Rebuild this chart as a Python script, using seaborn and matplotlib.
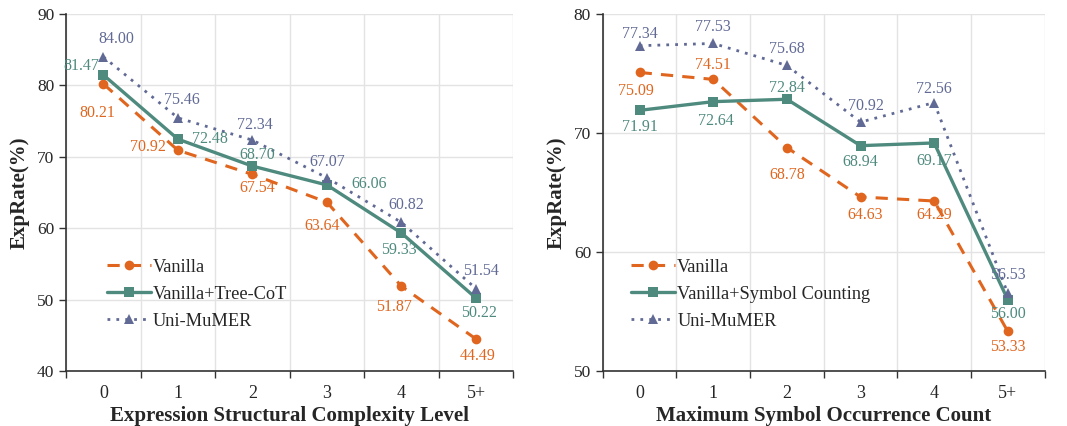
import numpy as np
import seaborn as sns
import matplotlib.pyplot as plt
from matplotlib.ticker import FixedLocator

# data
levels = ['0', '1', '2', '3', '4', '5+']
vanilla_struct = [80.21, 70.92, 67.54, 63.64, 51.87, 44.49]
tree_cot = [81.47, 72.48, 68.70, 66.06, 59.33, 50.22]
unimumer_struct = [84.00, 75.46, 72.34, 67.07, 60.82, 51.54]

counts = ['0', '1', '2', '3', '4', '5+']
vanilla_count = [75.09, 74.51, 68.78, 64.63, 64.29, 53.33]
sym_count = [71.91, 72.64, 72.84, 68.94, 69.17, 56.00]
unimumer_count = [77.34, 77.53, 75.68, 70.92, 72.56, 56.53]

sns.set_theme(style='white')
plt.rcParams['font.family'] = ['Liberation Serif', 'DejaVu Serif']

ORANGE = '#e0661f'
TEAL = '#4e8a7e'
PURPLE = '#616a95'

fig = plt.figure(figsize=(10.67, 4.26), dpi=100)
ax1 = fig.add_axes([0.062, 0.129, 0.419, 0.838])
ax2 = fig.add_axes([0.565, 0.129, 0.414, 0.838])

# label offsets in pixels (dx, dy) per point
offs1 = {
    'v': [(-6, -29), (-30, 3), (5, -14), (-5, -24), (-7, -21), (2, -17)],
    't': [(-22, 9), (32, 0), (5, 11), (42, 1), (-3, -17), (3, -15)],
    'u': [(13, 18), (4, 18), (2, 15), (0, 16), (5, 17), (5, 18)],
}
offs2 = {
    'v': [(-4, -19), (0, 14), (0, -27), (5, -18), (0, -14), (0, -16)],
    't': [(0, -17), (3, -19), (0, 11), (0, -16), (0, -18), (0, -14)],
    'u': [(0, 12), (0, 16), (0, 16), (5, 16), (0, 14), (0, 18)],
}


def draw(ax, cats, v, t, u, tlabel, xlabel, ylim, offs, legx):
    x = np.arange(len(cats))
    sns.lineplot(x=x, y=v, ax=ax, color=ORANGE, marker='o', markersize=7,
                 linestyle=(0, (4, 3)), linewidth=2.2, label='Vanilla',
                 markeredgewidth=0)
    sns.lineplot(x=x, y=t, ax=ax, color=TEAL, marker='s', markersize=7,
                 linestyle='-', linewidth=2.4, label=tlabel, markeredgewidth=0)
    sns.lineplot(x=x, y=u, ax=ax, color=PURPLE, marker='^', markersize=7.5,
                 linestyle=(0, (1, 2.2)), linewidth=2.0, label='Uni-MuMER',
                 markeredgewidth=0)
    for vals, key, col in [(v, 'v', ORANGE), (t, 't', TEAL), (u, 'u', PURPLE)]:
        for i, val in enumerate(vals):
            dx, dy = offs[key][i]
            ax.annotate('%.2f' % val, (x[i], val), xytext=(dx, dy),
                        textcoords='offset pixels', ha='center', va='center',
                        color=col, fontsize=11.5)
    ax.set_xlim(-0.5, len(cats) - 0.5)
    ax.set_ylim(*ylim)
    ax.set_xticks(x)
    ax.set_xticklabels(cats)
    ax.xaxis.set_minor_locator(FixedLocator(np.arange(-0.5, len(cats), 1.0)))
    ax.set_yticks(np.arange(ylim[0], ylim[1] + 1, 10))
    ax.tick_params(axis='x', which='major', length=0, labelsize=13, pad=10)
    ax.tick_params(axis='x', which='minor', length=5, width=1, color='#333333',
                   direction='out', bottom=True)
    ax.tick_params(axis='y', which='major', length=5, width=1, color='#333333',
                   direction='out', left=True, labelsize=12.5)
    ax.grid(axis='y', which='major', color='#e3e3e3', linewidth=1)
    ax.grid(axis='x', which='minor', color='#e3e3e3', linewidth=1)
    ax.grid(axis='x', which='major', visible=False)
    for s in ['top', 'right']:
        ax.spines[s].set_visible(False)
    for s in ['left', 'bottom']:
        ax.spines[s].set_color('#333333')
        ax.spines[s].set_linewidth(1.2)
    ax.set_xlabel(xlabel, fontsize=15, fontweight='bold', labelpad=3)
    ax.set_ylabel('ExpRate(%)', fontsize=15, fontweight='bold', labelpad=5)
    ax.legend(loc='center left', bbox_to_anchor=(legx, 0.215), frameon=False,
              fontsize=13.2, handlelength=2.4, handletextpad=0.1,
              labelspacing=0.55, borderaxespad=0)


draw(ax1, levels, vanilla_struct, tree_cot, unimumer_struct,
     'Vanilla+Tree-CoT', 'Expression Structural Complexity Level', (40, 90),
     offs1, 0.075)
draw(ax2, counts, vanilla_count, sym_count, unimumer_count,
     'Vanilla+Symbol Counting', 'Maximum Symbol Occurrence Count', (50, 80),
     offs2, 0.048)

fig.savefig('out.png', dpi=100)
